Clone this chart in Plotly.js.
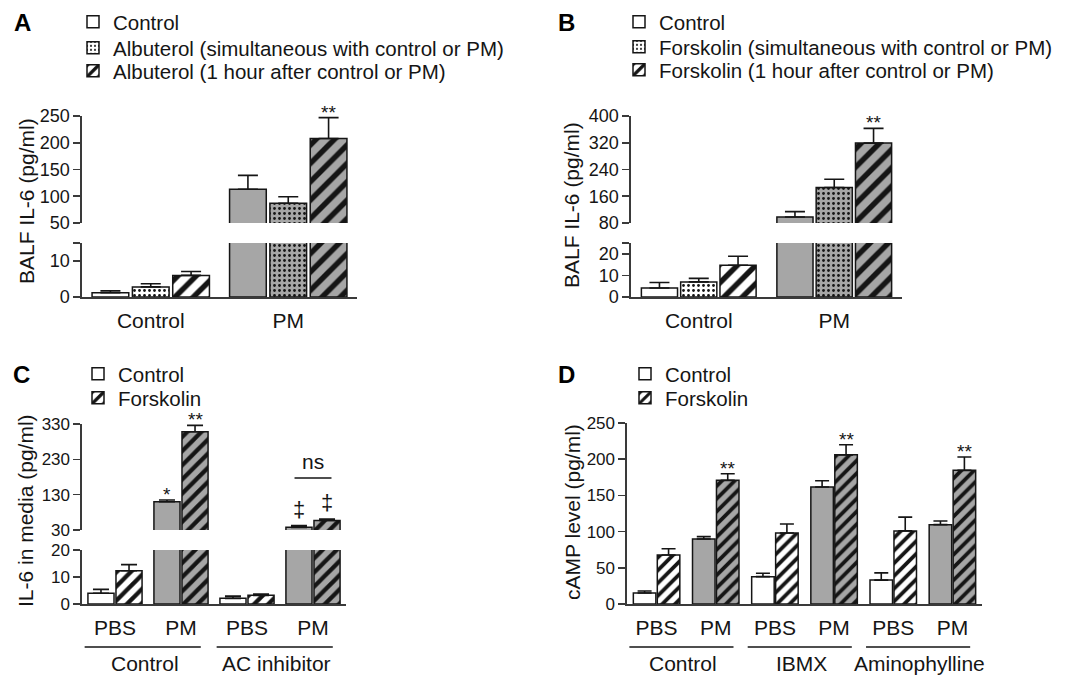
<!DOCTYPE html>
<html><head><meta charset="utf-8">
<script src="https://cdn.plot.ly/plotly-3.0.1.min.js"></script>
<style>html,body{margin:0;padding:0;background:#fff}#chart{width:1074px;height:675px}</style>
</head><body><div id="chart"></div>
<script>
// ---------------- DATA ----------------
// Panel A
const aCategories = ['Control', 'PM'];
const aSeriesNames = ['Control', 'Albuterol (simultaneous with control or PM)', 'Albuterol (1 hour after control or PM)'];
const aControl = [1.2, 113];
const aControlErr = [0.5, 26];
const aAlbSim = [2.8, 87];
const aAlbSimErr = [0.9, 12];
const aAlb1h = [6.0, 208];
const aAlb1hErr = [1.1, 39];
const aAlb1hSig = ['', '**'];
const aTicksLow = [0, 10];
const aTicksHigh = [50, 100, 150, 200, 250];

// Panel B
const bCategories = ['Control', 'PM'];
const bSeriesNames = ['Control', 'Forskolin (simultaneous with control or PM)', 'Forskolin (1 hour after control or PM)'];
const bControl = [4.2, 98];
const bControlErr = [2.5, 16];
const bFskSim = [7.0, 186];
const bFskSimErr = [1.6, 25];
const bFsk1h = [14.7, 319];
const bFsk1hErr = [4.2, 44];
const bFsk1hSig = ['', '**'];
const bTicksLow = [0, 10, 20];
const bTicksHigh = [80, 160, 240, 320, 400];

// Panel C
const cCategories = ['PBS', 'PM', 'PBS', 'PM'];
const cGroups = ['Control', 'AC inhibitor'];
const cGroupOf = [0, 0, 1, 1];
const cSeriesNames = ['Control', 'Forskolin'];
const cControl = [4.0, 110, 2.1, 37.5];
const cControlErr = [1.4, 5, 0.8, 4.8];
const cControlSig = ['', '*', '', '‡'];
const cFsk = [12.3, 308, 3.2, 57];
const cFskErr = [2.3, 18, 0.5, 4];
const cFskSig = ['', '**', '', '‡'];
const cTicksLow = [0, 10, 20];
const cTicksHigh = [30, 130, 230, 330];

// Panel D
const dCategories = ['PBS', 'PM', 'PBS', 'PM', 'PBS', 'PM'];
const dGroups = ['Control', 'IBMX', 'Aminophylline'];
const dGroupOf = [0, 0, 1, 1, 2, 2];
const dSeriesNames = ['Control', 'Forskolin'];
const dControl = [15.2, 89.8, 37.8, 161.6, 33, 109.6];
const dControlErr = [2.8, 3.2, 4.6, 8.7, 10, 5];
const dFsk = [67.7, 170.8, 98, 206, 101, 184.6];
const dFskErr = [8.7, 9.2, 12.5, 14, 19, 18.4];
const dFskSig = ['', '**', '', '**', '', '**'];
const dTicks = [0, 50, 100, 150, 200, 250];

// ---------------- STYLE ----------------
const W = 1074, H = 675;
const px = v => v / W, py = v => 1 - v / H;
const GREY = '#a6a6a6', WHITE = '#ffffff', INK = '#151515', AX = '#3a3a3a';
const FONT = 'Liberation Sans, Arial, Helvetica, sans-serif';

const fillOf = c => c === 'PM' ? GREY : WHITE;
const solid = () => null;
const dots = bg => ({shape: '.', fgcolor: INK, bgcolor: bg, size: 5, solidity: 0.24, fillmode: 'replace'});
const stripes = size => bg => ({shape: '/', fgcolor: INK, bgcolor: bg, size: size, solidity: 0.42, fillmode: 'replace'});

const panels = [
  {id: 'A', cats: aCategories, x: 'x', axes: [{id: 'y', range: [0, 15], dom: [243, 297], ticks: aTicksLow, top: 15}, {id: 'y2', range: [50, 250], dom: [116, 223], ticks: aTicksHigh}],
   xdom: [82, 357], group: 0.88, inner: 0.09, cap: 10, tick: 18, legX: 73, legY: [22, 48, 71],
   series: [
     {name: aSeriesNames[0], v: aControl, e: aControlErr, pat: solid},
     {name: aSeriesNames[1], v: aAlbSim, e: aAlbSimErr, pat: dots},
     {name: aSeriesNames[2], v: aAlb1h, e: aAlb1hErr, pat: stripes(13), sig: aAlb1hSig}]},
  {id: 'B', cats: bCategories, x: 'x2', axes: [{id: 'y3', range: [0, 25], dom: [243, 297], ticks: bTicksLow, top: 25}, {id: 'y4', range: [80, 400], dom: [116, 223], ticks: bTicksHigh}],
   xdom: [631, 902], group: 0.87, inner: 0.08, cap: 10, tick: 18, legX: 619, legY: [22, 47, 70],
   series: [
     {name: bSeriesNames[0], v: bControl, e: bControlErr, pat: solid},
     {name: bSeriesNames[1], v: bFskSim, e: bFskSimErr, pat: dots},
     {name: bSeriesNames[2], v: bFsk1h, e: bFsk1hErr, pat: stripes(13), sig: bFsk1hSig}]},
  {id: 'C', cats: cCategories, groups: cGroups, groupOf: cGroupOf, x: 'x3', axes: [{id: 'y5', range: [0, 20], dom: [550, 604], ticks: cTicksLow}, {id: 'y6', range: [30, 330], dom: [424, 530], ticks: cTicksHigh}],
   xdom: [82, 346], group: 0.85, inner: 0.07, cap: 8, tick: 17, legX: 78, legY: [374, 398],
   series: [
     {name: cSeriesNames[0], v: cControl, e: cControlErr, pat: solid, sig: cControlSig},
     {name: cSeriesNames[1], v: cFsk, e: cFskErr, pat: stripes(10), sig: cFskSig}]},
  {id: 'D', cats: dCategories, groups: dGroups, groupOf: dGroupOf, x: 'x4', axes: [{id: 'y7', range: [0, 250], dom: [423, 604], ticks: dTicks}],
   xdom: [627, 982], group: 0.81, inner: 0.06, cap: 7, tick: 17, legX: 625, legY: [374, 398],
   series: [
     {name: dSeriesNames[0], v: dControl, e: dControlErr, pat: solid},
     {name: dSeriesNames[1], v: dFsk, e: dFskErr, pat: stripes(9), sig: dFskSig}]}
];

const data = [];
const layout = {
  width: W, height: H, margin: {l: 0, r: 0, t: 0, b: 0},
  paper_bgcolor: '#fff', plot_bgcolor: 'rgba(0,0,0,0)',
  font: {family: FONT, color: INK, size: 18},
  barmode: 'overlay', showlegend: true, hovermode: false,
  annotations: [], shapes: []
};

let legendCount = 0;
panels.forEach(p => {
  const n = p.cats.length, k = p.series.length;
  const idx = p.cats.map((_, i) => i);
  const slot = p.group / k, barW = slot * (1 - p.inner);
  const lowerId = p.axes[0].id;
  // x axis
  const xName = 'xaxis' + (p.x === 'x' ? '' : p.x.slice(1));
  layout[xName] = {
    domain: [px(p.xdom[0]), px(p.xdom[1])], range: [-0.5, n - 0.5], anchor: lowerId,
    tickvals: idx, ticktext: p.cats, showline: true, linecolor: AX, linewidth: 1.6,
    ticks: '', ticklabelstandoff: 4, showgrid: false, zeroline: false,
    tickfont: {size: 21, color: INK}, fixedrange: true
  };
  // y axes
  p.axes.forEach(a => {
    const yName = 'yaxis' + (a.id === 'y' ? '' : a.id.slice(1));
    const tv = a.top !== undefined ? a.ticks.concat([a.top]) : a.ticks;
    const tt = tv.map(t => (a.top !== undefined && t === a.top) ? '' : String(t));
    layout[yName] = {
      domain: [py(a.dom[1]), py(a.dom[0])], range: a.range, anchor: p.x,
      tickvals: tv, ticktext: tt, showline: true, linecolor: AX, linewidth: 1.6,
      ticks: 'outside', ticklen: 7, tickwidth: 1.6, tickcolor: AX,
      showgrid: false, zeroline: false, tickfont: {size: p.tick, color: INK}, fixedrange: true
    };
  });
  // bars
  p.series.forEach((s, si) => {
    const off = -p.group / 2 + si * slot + (slot - barW) / 2;
    legendCount++;
    const legId = legendCount === 1 ? 'legend' : 'legend' + legendCount;
    layout[legId] = {
      x: px(p.legX), y: py(p.legY[si]), xanchor: 'left', yanchor: 'middle',
      bgcolor: 'rgba(0,0,0,0)', borderwidth: 0, tracegroupgap: 0,
      font: {size: 20.5, color: INK}, itemclick: false, itemdoubleclick: false
    };
    [WHITE, GREY].forEach(bg => {
      const mask = p.cats.map(c => fillOf(c) === bg);
      if (!mask.some(Boolean)) return;
      const yv = s.v.map((v, i) => mask[i] ? v : null);
      const ev = s.e.map((v, i) => mask[i] ? v : 0);
      const pat = s.pat(bg);
      p.axes.forEach((a, ai) => {
        const tr = {
          type: 'bar', x: idx, y: yv, xaxis: p.x, yaxis: a.id,
          width: barW, offset: off, name: s.name,
          legend: legId, legendgroup: p.id + si,
          showlegend: ai === 0 && bg === WHITE,
          marker: {color: bg, line: {color: INK, width: 1.5}},
          error_y: {type: 'data', symmetric: false, array: ev, arrayminus: ev.map(() => 0),
                    color: INK, thickness: 1.6, width: p.cap},
          hoverinfo: 'skip'
        };
        if (pat) tr.marker.pattern = pat;
        data.push(tr);
      });
    });
    // significance marks
    if (s.sig) {
      s.sig.forEach((m, i) => {
        if (!m) return;
        const top = s.v[i] + s.e[i];
        const ax = p.axes.length > 1 && top > p.axes[1].range[0] ? p.axes[1] : p.axes[0];
        const dag = m === '‡';
        layout.annotations.push({
          text: m, x: i + off + barW / 2, y: top, xref: p.x, yref: ax.id,
          xanchor: 'center', yanchor: 'bottom', showarrow: false,
          yshift: dag ? 2 : -7, font: {size: dag ? 22 : 19, color: INK}
        });
      });
    }
  });
  // group labels under x axis
  if (p.groups) {
    p.groups.forEach((g, gi) => {
      const members = idx.filter(i => p.groupOf[i] === gi);
      const x0 = members[0] - 0.46, x1 = members[members.length - 1] + 0.3;
      layout.shapes.push({type: 'line', xref: p.x, yref: 'paper', x0: x0, x1: x1,
        y0: py(647), y1: py(647), line: {color: INK, width: 1.4}});
      layout.annotations.push({text: g, xref: p.x, yref: 'paper', x: (x0 + x1) / 2 + 0.03, y: py(663),
        xanchor: 'center', yanchor: 'middle', showarrow: false, font: {size: 21, color: INK}});
    });
  }
});

// "ns" comparison line in panel C
layout.shapes.push({type: 'line', xref: 'x3', yref: 'paper', x0: 3 - 0.28, x1: 3 + 0.28,
  y0: py(478), y1: py(478), line: {color: INK, width: 1.4}});
layout.annotations.push({text: 'ns', xref: 'x3', yref: 'paper', x: 3, y: py(461),
  xanchor: 'center', yanchor: 'middle', showarrow: false, font: {size: 21, color: INK}});

// axis titles
[['BALF IL-6 (pg/ml)', 27, 201], ['BALF IL-6 (pg/ml)', 571, 205],
 ['IL-6 in media (pg/ml)', 25, 511], ['cAMP level (pg/ml)', 572, 512]].forEach(t => {
  layout.annotations.push({text: t[0], xref: 'paper', yref: 'paper', x: px(t[1]), y: py(t[2]),
    xanchor: 'center', yanchor: 'middle', textangle: -90, showarrow: false, font: {size: 21, color: INK}});
});
// panel letters
[['A', 22, 22], ['B', 566, 22], ['C', 21, 374], ['D', 566, 374]].forEach(t => {
  layout.annotations.push({text: '<b>' + t[0] + '</b>', xref: 'paper', yref: 'paper', x: px(t[1]), y: py(t[2]),
    xanchor: 'center', yanchor: 'middle', showarrow: false, font: {size: 24, color: '#000', family: 'Liberation Sans, Arial, sans-serif'}});
});

Plotly.newPlot('chart', data, layout, {staticPlot: true, displayModeBar: false});
</script>
</body></html>
